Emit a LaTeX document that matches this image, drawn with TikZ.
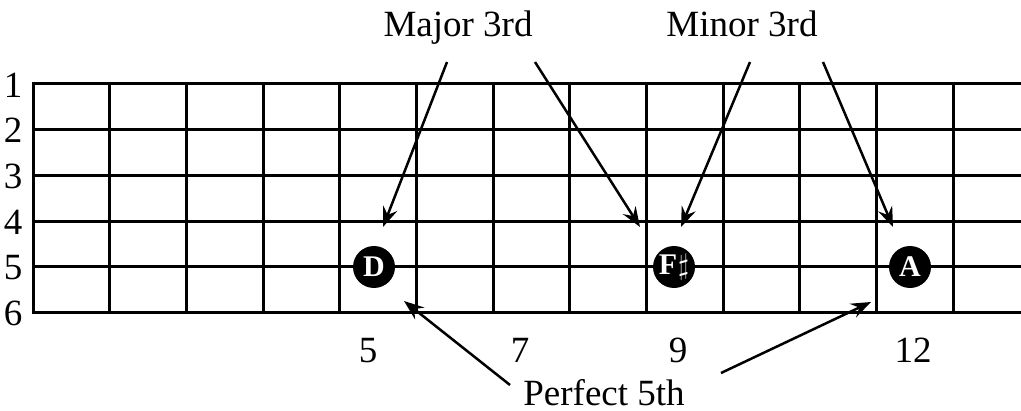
\documentclass[tikz,border=0pt]{standalone}
\usepackage{fontspec}
\setmainfont{Liberation Serif}
\usetikzlibrary{arrows.meta}

\begin{document}
\begin{tikzpicture}[x=0.5pt, y=-0.5pt, font=\fontsize{18.5}{20}\selectfont,
	wire/.style={line width=1.5pt, line cap=rect},
	pointer/.style={line width=1.25pt, -{Stealth[length=10pt,width=7.5pt,inset=3.5pt]}},
	notedot/.style={circle, fill=black, minimum size=21pt, inner sep=0pt, text=white,
		font=\bfseries\fontsize{15}{15}\selectfont}]
			\useasboundingbox (0,0) rectangle (1021,411);
			
			% strings and frets
			\foreach \s in {1,...,6} {
				\draw[wire] (33,{84+45.7*(\s-1)}) -- (1021,{84+45.7*(\s-1)});
				\node (s\s) at (13,{85+45.7*(\s-1)}) {\s};
			}
			\foreach \f in {0,...,12}
				\draw[wire] ({33+76.67*\f},84) -- ({33+76.67*\f},312.5);
			
			% notes
			\node[notedot] (D) at (374,267) {D};
			\node[notedot] (Fs) at (674,267) {F\kern0.5pt$\sharp$};
			\node[notedot] (A) at (910,267) {A};
			
			% fret numbers
			\foreach \x/\n in {368/5, 520/7, 678/9, 913/12}
				\node[anchor=base] (f\n) at (\x,362) {\n};
			
			% interval labels
			\node[anchor=base] (maj) at (458,37) {Major 3rd};
			\node[anchor=base] (min) at (742,37) {Minor 3rd};
			\node[anchor=base] (fifth) at (604,405) {Perfect 5th};
			
			\coordinate (majL) at (447,62);
			\coordinate (majR) at (535,62);
			\coordinate (minL) at (750,62);
			\coordinate (minR) at (823,62);
			\coordinate (fifL) at (510,385);
			\coordinate (fifR) at (721,373);
			
			\coordinate (tD1) at (383,227);
			\coordinate (tF1) at (640,227);
			\coordinate (tF2) at (681,227);
			\coordinate (tA1) at (893,227);
			\coordinate (tD2) at (404,301);
			\coordinate (tA2) at (871,302);
			
			\draw[pointer] (majL) -- (tD1);
			\draw[pointer] (majR) -- (tF1);
			\draw[pointer] (minL) -- (tF2);
			\draw[pointer] (minR) -- (tA1);
			\draw[pointer] (fifL) -- (tD2);
			\draw[pointer] (fifR) -- (tA2);
		\end{tikzpicture}
\end{document}
